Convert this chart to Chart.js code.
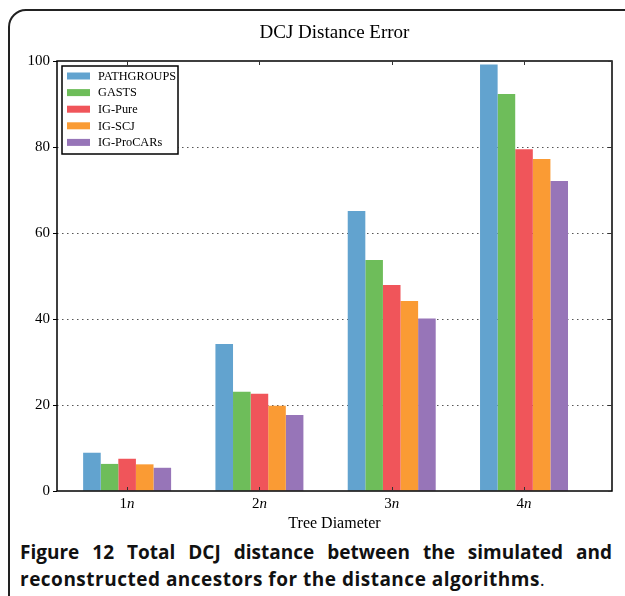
<!DOCTYPE html>
<html>
<head>
<meta charset="utf-8">
<script src="https://cdn.jsdelivr.net/npm/chart.js@4.4.1/dist/chart.umd.min.js"></script>
<style>
  body { margin: 0; background: #fff; width: 625px; height: 596px; overflow: hidden; position: relative; }
  #frame { position: absolute; left: 8px; top: 9px; width: 700px; height: 700px;
           border: 2px solid #222; border-top-left-radius: 18px; box-sizing: border-box; }
  #graph { position: absolute; left: 0; top: 0; }
  #caption { position: absolute; left: 20px; top: 539px; width: 592px;
             font-family: "Open Sans", "Noto Sans", sans-serif; font-weight: bold; font-size: 19px;
             line-height: 27px; color: #111; }
  #caption .l1 { white-space: nowrap; text-align: justify; text-align-last: justify; }
  #caption .l2 { white-space: nowrap; letter-spacing: 0.5px; }
  #caption .dot { font-weight: normal; }
</style>
</head>
<body>
<div id="frame"></div>
<canvas id="graph" width="625" height="535"></canvas>
<div id="caption"><div class="l1">Figure 12 Total DCJ distance between the simulated and</div><div class="l2">reconstructed ancestors for the distance algorithms<span class="dot">.</span></div></div>
<script>
// data
let categories = ['1', '2', '3', '4']   // shown as 1n, 2n, ...
let positions = [1, 2, 3, 4]
let yTicks = [0, 20, 40, 60, 80, 100]

let pathgroups = [8.9, 34.2, 65.1, 99.2]
let gasts = [6.3, 23.1, 53.7, 92.3]
let igPure = [7.5, 22.6, 47.9, 79.5]
let igScj = [6.2, 19.8, 44.2, 77.2]
let igProcars = [5.4, 17.7, 40.1, 72.1]

let serif = '"Liberation Serif", "DejaVu Serif", serif'

function makeSet(label, values, color) {
    return {
        label: label,
        data: values.map((v, i) => ({ x: positions[i], y: v })),
        backgroundColor: color,
        borderWidth: 0,
        barPercentage: 1,
        categoryPercentage: 0.665,
    }
}

// title, frame, inward ticks, x labels and legend
let extras = {
    id: 'extras',
    afterDraw(chart) {
        let c = chart.ctx
        let a = chart.chartArea
        let xs = chart.scales.x
        let ys = chart.scales.y
        c.save()

        c.fillStyle = '#000'
        c.font = '19px ' + serif
        c.textAlign = 'center'
        c.textBaseline = 'middle'
        c.fillText('DCJ Distance Error', (a.left + a.right) / 2, 33)

        c.strokeStyle = '#000'
        c.lineWidth = 1.5
        c.strokeRect(a.left, a.top, a.right - a.left, a.bottom - a.top)

        c.lineWidth = 1
        c.strokeStyle = '#333'
        positions.forEach(p => {
            let px = Math.round(xs.getPixelForValue(p)) + 0.5
            c.beginPath()
            c.moveTo(px, a.bottom); c.lineTo(px, a.bottom - 4)
            c.moveTo(px, a.top); c.lineTo(px, a.top + 4)
            c.stroke()
        })
        yTicks.forEach(t => {
            let py = Math.round(ys.getPixelForValue(t)) + 0.5
            c.beginPath()
            c.moveTo(a.right, py); c.lineTo(a.right - 4, py)
            c.stroke()
        })

        // tick labels: digit upright, n italic
        c.textAlign = 'left'
        positions.forEach((p, i) => {
            let px = xs.getPixelForValue(p)
            c.font = '15px ' + serif
            let w1 = c.measureText(categories[i]).width
            c.font = 'italic 15px ' + serif
            let w2 = c.measureText('n').width
            let x0 = px - (w1 + w2) / 2
            c.font = '15px ' + serif
            c.fillText(categories[i], x0, 504)
            c.font = 'italic 15px ' + serif
            c.fillText('n', x0 + w1, 504)
        })

        // legend box
        let lx = a.left + 5, ly = a.top + 5
        c.fillStyle = '#fff'
        c.fillRect(lx, ly, 116, 88)
        c.strokeStyle = '#000'
        c.lineWidth = 1.5
        c.strokeRect(lx, ly, 116, 88)
        c.font = '12.3px ' + serif
        c.textBaseline = 'middle'
        chart.data.datasets.forEach((d, i) => {
            let ry = ly + 10 + i * 16.6
            c.fillStyle = d.backgroundColor
            c.fillRect(lx + 5, ry - 3.5, 23, 7)
            c.fillStyle = '#000'
            c.fillText(d.label, lx + 36, ry + 0.5)
        })
        c.restore()
    }
}

let ctx = document.getElementById('graph').getContext('2d')

let graph = new Chart(ctx, {
    type: 'bar',
    data: {
        datasets: [
            makeSet('PATHGROUPS', pathgroups, '#62a3cf'),
            makeSet('GASTS', gasts, '#6ebd5a'),
            makeSet('IG-Pure', igPure, '#f0555a'),
            makeSet('IG-SCJ', igScj, '#fa9b34'),
            makeSet('IG-ProCARs', igProcars, '#9775b8'),
        ]
    },
    options: {
        responsive: false,
        animation: false,
        layout: { padding: { top: 61, right: 13, left: 0, bottom: 0 } },
        plugins: {
            legend: { display: false },
            tooltip: { enabled: false },
            title: { display: false },
        },
        scales: {
            x: {
                type: 'linear',
                min: 0.47,
                max: 4.665,
                offset: false,
                afterBuildTicks: s => { s.ticks = positions.map(v => ({ value: v })) },
                afterFit: s => { s.height = 44 },
                grid: { display: false },
                border: { display: false },
                ticks: { display: false },
                title: {
                    display: true,
                    text: 'Tree Diameter',
                    color: '#000',
                    font: { family: serif, size: 16 },
                    padding: { top: 0, bottom: 2 },
                },
            },
            y: {
                min: 0,
                max: 100,
                afterBuildTicks: s => { s.ticks = yTicks.map(v => ({ value: v })) },
                afterFit: s => { s.width = 57 },
                border: { display: false, dash: [1.5, 3.5] },
                grid: {
                    color: c => (c.tick && (c.tick.value === 0 || c.tick.value === 100)) ? 'rgba(0,0,0,0)' : '#555',
                    tickColor: '#000',
                    tickBorderDash: [],
                    tickLength: 4,
                },
                ticks: {
                    color: '#000',
                    font: { family: serif, size: 15 },
                    padding: 3,
                },
            },
        },
    },
    plugins: [extras],
})
</script>
</body>
</html>
